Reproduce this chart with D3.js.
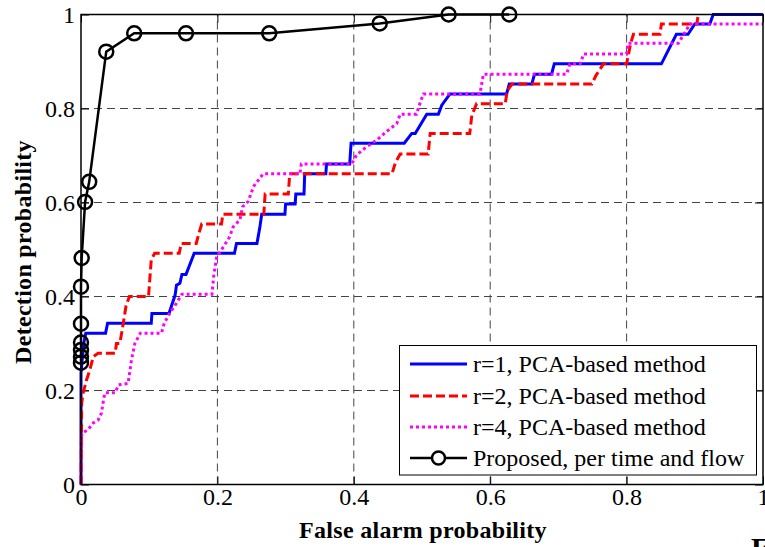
<!DOCTYPE html>
<html>
<head>
<meta charset="utf-8">
<script src="https://cdn.jsdelivr.net/npm/d3@7/dist/d3.min.js"></script>
<style>
  html, body { margin: 0; padding: 0; background: #fff; }
  svg { display: block; }
  text { font-family: "Liberation Serif", "Times New Roman", serif; }
</style>
</head>
<body>
<svg id="chart" width="765" height="547"></svg>
<script>
// Tick values on both axes
const xTicks = [0, 0.2, 0.4, 0.6, 0.8, 1];
const yTicks = [0, 0.2, 0.4, 0.6, 0.8, 1];

// ROC curve, r = 1 (false alarm / detection probability)
const r1FA = [0, 0, 0.004, 0.007, 0.036, 0.039, 0.103, 0.104, 0.129, 0.138, 0.140, 0.145, 0.148, 0.154, 0.166,
  0.225, 0.228, 0.258, 0.262, 0.265, 0.299, 0.300, 0.314, 0.315, 0.327, 0.328, 0.359, 0.360, 0.394, 0.396,
  0.474, 0.485, 0.490, 0.507, 0.524, 0.529, 0.541, 0.624, 0.628, 0.661, 0.665, 0.690, 0.694,
  0.851, 0.873, 0.890, 0.900, 0.922, 0.927, 1.0];
const r1PD = [0, 0.237, 0.300, 0.322, 0.322, 0.343, 0.343, 0.364, 0.364, 0.403, 0.424, 0.428, 0.447, 0.447, 0.492,
  0.492, 0.513, 0.513, 0.545, 0.575, 0.575, 0.597, 0.597, 0.618, 0.618, 0.661, 0.661, 0.682, 0.682, 0.726,
  0.726, 0.747, 0.747, 0.788, 0.788, 0.807, 0.831, 0.831, 0.852, 0.852, 0.873, 0.873, 0.895,
  0.895, 0.958, 0.958, 0.980, 0.980, 1.0, 1.0];

// ROC curve, r = 2
const r2FA = [0, 0.001, 0.003, 0.008, 0.013, 0.018, 0.025, 0.050, 0.052, 0.057, 0.062, 0.066, 0.071,
  0.099, 0.103, 0.108, 0.144, 0.147, 0.169, 0.173, 0.177, 0.206, 0.208, 0.268, 0.270,
  0.304, 0.306, 0.456, 0.461, 0.468, 0.509, 0.512, 0.570, 0.573, 0.580, 0.622, 0.625, 0.632,
  0.749, 0.755, 0.766, 0.800, 0.806, 0.810, 0.849, 0.851, 0.903, 0.905];
const r2PD = [0, 0.173, 0.194, 0.222, 0.244, 0.272, 0.279, 0.279, 0.300, 0.300, 0.343, 0.380, 0.400,
  0.400, 0.478, 0.492, 0.492, 0.513, 0.513, 0.535, 0.554, 0.554, 0.575, 0.575, 0.618,
  0.618, 0.661, 0.661, 0.685, 0.703, 0.703, 0.747, 0.747, 0.785, 0.810, 0.810, 0.838, 0.852,
  0.852, 0.870, 0.895, 0.895, 0.939, 0.958, 0.958, 0.980, 0.980, 1.0];

// ROC curve, r = 4
const r4FA = [0, 0.001, 0.010, 0.018, 0.025, 0.030, 0.033, 0.035, 0.050, 0.055, 0.069, 0.072, 0.074, 0.079, 0.087,
  0.118, 0.122, 0.130, 0.140, 0.148, 0.192, 0.195, 0.199, 0.209, 0.218, 0.223, 0.233, 0.237, 0.245,
  0.253, 0.267, 0.321, 0.323, 0.397, 0.404, 0.419, 0.434, 0.448, 0.463, 0.468, 0.492, 0.497, 0.502,
  0.585, 0.590, 0.712, 0.717, 0.732, 0.737, 0.800, 0.802, 0.876, 0.893, 1.0];
const r4PD = [0, 0.109, 0.116, 0.131, 0.137, 0.152, 0.180, 0.195, 0.195, 0.212, 0.215, 0.244, 0.265, 0.300, 0.322,
  0.322, 0.343, 0.364, 0.386, 0.405, 0.405, 0.449, 0.485, 0.506, 0.527, 0.548, 0.563, 0.591, 0.602,
  0.634, 0.661, 0.661, 0.682, 0.682, 0.701, 0.719, 0.733, 0.751, 0.768, 0.788, 0.788, 0.811, 0.831,
  0.831, 0.873, 0.873, 0.895, 0.895, 0.916, 0.916, 0.939, 0.939, 0.980, 0.980];

// Proposed detector, per time and flow
const propFA = [0, 0, 0, 0, 0, 0, 0.001, 0.006, 0.012, 0.037, 0.078, 0.154, 0.276, 0.438, 0.539, 0.628];
const propPD = [0.259, 0.272, 0.286, 0.302, 0.342, 0.421, 0.482, 0.601, 0.644, 0.921, 0.960, 0.960, 0.960, 0.981, 1.0, 1.0];

const legendLabels = ["r=1, PCA-based method", "r=2, PCA-based method", "r=4, PCA-based method", "Proposed, per time and flow"];

const svg = d3.select("#chart");
const x = d3.scaleLinear().domain([0, 1]).range([81, 763]);
const y = d3.scaleLinear().domain([0, 1]).range([484.5, 14.5]);
const fmt = d => (d === 0 || d === 1) ? String(d) : d3.format(".1f")(d);

// Dashed grid
const grid = svg.append("g").attr("stroke", "#444").attr("stroke-width", 1)
  .attr("stroke-dasharray", "8,5").attr("fill", "none");
grid.selectAll("line.gx").data(xTicks.filter(d => d > 0 && d < 1)).join("line")
  .attr("x1", d => x(d)).attr("x2", d => x(d)).attr("y1", y(0)).attr("y2", y(1));
grid.selectAll("line.gy").data(yTicks.filter(d => d > 0 && d < 1)).join("line")
  .attr("y1", d => y(d)).attr("y2", d => y(d)).attr("x1", x(0)).attr("x2", x(1));

// Axes with inward ticks on all four sides
function styleAxis(g) {
  g.select(".domain").remove();
  g.selectAll(".tick line").attr("stroke", "#000").attr("stroke-width", 1);
  g.selectAll(".tick text").attr("fill", "#000").style("font-size", "24px")
    .style("font-family", '"Liberation Serif", "Times New Roman", serif');
}
svg.append("g").attr("transform", `translate(0,${y(0)})`)
  .call(d3.axisBottom(x).tickValues(xTicks).tickFormat(fmt).tickSizeInner(-8).tickSizeOuter(0).tickPadding(3))
  .call(styleAxis);
svg.append("g").attr("transform", `translate(${x(0)},0)`)
  .call(d3.axisLeft(y).tickValues(yTicks).tickFormat(fmt).tickSizeInner(-8).tickSizeOuter(0).tickPadding(6))
  .call(styleAxis);
svg.append("g").attr("transform", `translate(0,${y(1)})`)
  .call(d3.axisTop(x).tickValues(xTicks).tickFormat("").tickSizeInner(-8).tickSizeOuter(0))
  .call(styleAxis);
svg.append("g").attr("transform", `translate(${x(1)},0)`)
  .call(d3.axisRight(y).tickValues(yTicks).tickFormat("").tickSizeInner(-8).tickSizeOuter(0))
  .call(styleAxis);

// Curves
const line = d3.line().x(d => x(d[0])).y(d => y(d[1]));
const zip = (a, b) => a.map((v, i) => [v, b[i]]);
const series = [
  { fa: r1FA, pd: r1PD, color: "#0000ff", dash: null, width: 3 },
  { fa: r2FA, pd: r2PD, color: "#ff0000", dash: "9,4", width: 3 },
  { fa: r4FA, pd: r4PD, color: "#ff00ff", dash: "3,3", width: 3 },
  { fa: propFA, pd: propPD, color: "#000000", dash: null, width: 2.5 }
];
series.forEach(s => {
  svg.append("path").datum(zip(s.fa, s.pd))
    .attr("d", line).attr("fill", "none")
    .attr("stroke", s.color).attr("stroke-width", s.width)
    .attr("stroke-dasharray", s.dash);
});
svg.append("g").selectAll("circle").data(zip(propFA, propPD)).join("circle")
  .attr("cx", d => x(d[0])).attr("cy", d => y(d[1])).attr("r", 7)
  .attr("fill", "none").attr("stroke", "#000").attr("stroke-width", 2.5);

// Plot frame
svg.append("rect").attr("x", x(0)).attr("y", y(1))
  .attr("width", x(1) - x(0)).attr("height", y(0) - y(1))
  .attr("fill", "none").attr("stroke", "#000").attr("stroke-width", 1.5);

// Axis titles
svg.append("text").attr("x", 423).attr("y", 538).attr("text-anchor", "middle")
  .style("font-size", "24px").style("font-weight", "bold").style("letter-spacing", "0.3px")
  .text("False alarm probability");
svg.append("text").attr("transform", "translate(31,252) rotate(-90)").attr("text-anchor", "middle")
  .style("font-size", "24px").style("font-weight", "bold").style("letter-spacing", "0.3px")
  .text("Detection probability");

// Legend
const lg = svg.append("g");
lg.append("rect").attr("x", 399.5).attr("y", 345.5).attr("width", 357).attr("height", 129.5)
  .attr("fill", "#fff").attr("stroke", "#000").attr("stroke-width", 1);
const rowY = [364, 396, 427, 458];
legendLabels.forEach((lab, i) => {
  const s = series[i];
  lg.append("line").attr("x1", 410).attr("x2", 467).attr("y1", rowY[i]).attr("y2", rowY[i])
    .attr("stroke", s.color).attr("stroke-width", s.width).attr("stroke-dasharray", s.dash);
  if (i === 3) {
    lg.append("circle").attr("cx", 438.5).attr("cy", rowY[i]).attr("r", 6.5)
      .attr("fill", "#fff").attr("stroke", "#000").attr("stroke-width", 2.5);
  }
  lg.append("text").attr("x", 473).attr("y", rowY[i]).attr("dy", "0.33em")
    .style("font-size", "24px").text(lab);
});

// Fragment of the next caption, cut by the lower edge
svg.append("text").attr("x", 751).attr("y", 558).style("font-size", "30px").style("font-weight", "bold").text("F");
</script>
</body>
</html>
